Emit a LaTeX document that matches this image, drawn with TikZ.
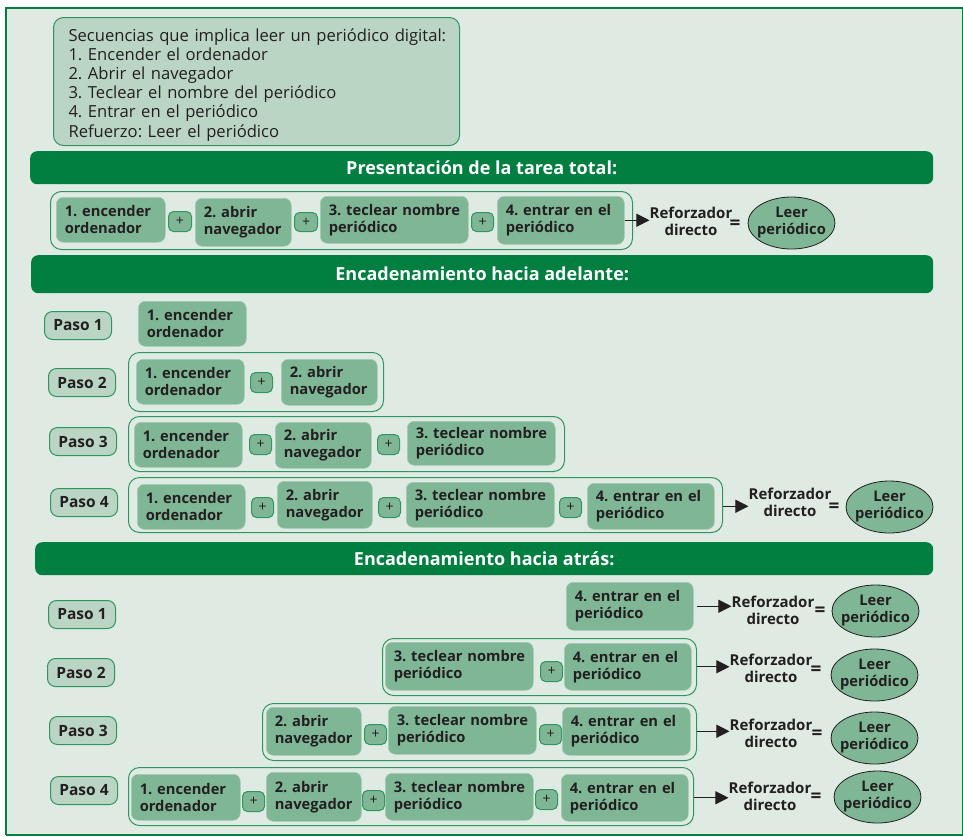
\documentclass[tikz,border=0pt]{standalone}
\usepackage{fontspec}
\setmainfont{Open Sans}
\frenchspacing
\usetikzlibrary{arrows.meta,shapes.geometric}
\definecolor{bgc}{HTML}{DFEBE2}
\definecolor{gd}{HTML}{007F40}
\definecolor{gl}{HTML}{2F9561}
\definecolor{gm}{HTML}{7FB796}
\definecolor{gp}{HTML}{BAD5C3}
\definecolor{ink}{HTML}{231F20}
\tikzset{
 x=1pt,y=-1pt,
 base/.style={anchor=north west,inner ysep=0pt,text=ink},
 stepbox/.style={base,fill=gm,draw=gm!70!white,line width=.5pt,rounded corners=7pt,align=left,inner xsep=8.5pt,font=\frenchspacing\fontsize{14.7}{17}\selectfont\bfseries},
 groupbox/.style={base,draw=gl,line width=1pt,rounded corners=11pt,inner sep=0pt},
 plusbox/.style={base,fill=gm,draw=gl,line width=1pt,rounded corners=5pt,align=center,inner xsep=0pt,font=\fontsize{14}{14}\selectfont},
 pasobox/.style={base,fill=gp,draw=gl,line width=1pt,rounded corners=8pt,align=center,inner xsep=0pt,font=\frenchspacing\fontsize{15.5}{15.5}\selectfont\bfseries},
 banner/.style={base,fill=gd,rounded corners=7pt,text=white,align=center,inner xsep=0pt,font=\frenchspacing\fontsize{18}{20}\selectfont\bfseries},
 refbox/.style={text=ink,align=center,inner sep=0pt,font=\fontsize{15}{17}\selectfont\bfseries},
 eqbox/.style={text=ink,inner sep=0pt,font=\fontsize{19}{19}\selectfont\bfseries},
 goalbox/.style={ellipse,fill=gm,draw=ink,line width=.8pt,text=ink,inner sep=0pt,font=\fontsize{14.7}{17}\selectfont\bfseries},
 linkarrow/.style={draw=ink,line width=1pt,-{Triangle[length=13pt,width=13pt]}},
}
\newcommand{\bx}[7]{%
 \pgfmathsetmacro{\ww}{#4-#2}\pgfmathsetmacro{\hh}{#5-#3}%
 \node[#6,minimum width=\ww pt,minimum height=\hh pt] (#1) at (#2,#3) {#7};}
\newcommand{\sbx}[6]{%
 \pgfmathsetmacro{\ww}{#4-#2}\pgfmathsetmacro{\hh}{#5-#3}\pgfmathsetmacro{\tw}{#4-#2-17}%
 \node[stepbox,text width=\tw pt,minimum height=\hh pt] (#1) at (#2,#3) {#6};}
\newcommand{\enc}{1. encender\\ordenador}
\newcommand{\abr}{2. abrir\\navegador}
\newcommand{\tec}{\mbox{3. teclear nombre}\\periódico}
\newcommand{\ent}{4. entrar en el\\periódico}
\newcommand{\plusb}[3]{\bx{#1}{#2}{#3}{#2+22}{#3+20}{plusbox}{+}}
\newcommand{\pasob}[4]{\bx{#1}{#2}{#3}{#2+67}{#3+28}{pasobox}{#4}}
\newcommand{\goal}[7]{%
 \node[refbox] (#1r) at (#2,#3) {Reforzador\\directo};
 \node[eqbox] (#1e) at (#4,#5) {=};
 \node[goalbox,minimum width=87pt,minimum height=52pt] (#1g) at (#6+43.5,#7+26) {\vbox{\hbox to 40pt{\hss Leer\hss}\hbox to 40pt{\hss periódico\hss}}};
}
\begin{document}
\begin{tikzpicture}
\path[use as bounding box] (0,0) rectangle (963,836);
\fill[bgc] (6,8) rectangle (962,835);
\draw[gd,line width=1.4pt] (962.2,8) -- (962.2,835.3);
\draw[gd,line width=2.4pt] (963,8) -- (6.2,8) -- (6.2,835);
\draw[gd,line width=1.5pt] (6,835.2) -- (963,835.2);

\node[base,fill=gp,draw=gl,line width=1pt,rounded corners=10pt,minimum width=406pt,minimum height=128pt,inner xsep=15pt,align=left,text width=376pt,font=\frenchspacing\fontsize{16.6}{19.2}\selectfont] (intro) at (53,17) {\rule{0pt}{19pt}\mbox{Secuencias que implica leer un periódico digital:}\\1. Encender el ordenador\\2. Abrir el navegador\\3. Teclear el nombre del periódico\\4. Entrar en el periódico\\Refuerzo: Leer el periódico};

% Presentacion
\bx{b1}{30}{151}{933}{184}{banner}{Presentación de la tarea total:}
\bx{c0}{50}{191}{632}{249}{groupbox}{}
\sbx{t1}{56}{197}{165}{242}{\enc}
\bx{tp1}{168}{211}{191}{231}{plusbox}{+}
\sbx{t2}{195}{198}{291}{246}{\abr}
\bx{tp2}{294}{212}{317}{231}{plusbox}{+}
\sbx{t3}{320}{196}{468}{243}{\tec}
\bx{tp3}{471}{212}{493}{231}{plusbox}{+}
\sbx{t4}{497}{196}{624}{244}{\ent}
\goal{t}{691}{221}{735}{225}{748}{197}
\draw[linkarrow] (t4.east) -- (t4.east -| tr.west);

% Adelante
\bx{b2}{31}{255}{933}{293}{banner}{Encadenamiento hacia adelante:}
\pasob{f1}{44}{311}{Paso 1}
\sbx{f1a}{138}{301}{246}{346}{\enc}
\pasob{f2}{48}{368}{Paso 2}
\bx{c2}{128}{352}{383}{411}{groupbox}{}
\sbx{f2a}{136}{359}{244}{404}{\enc}
\plusb{f2p}{250}{372}
\sbx{f2b}{281}{359}{377}{405}{\abr}
\pasob{f3}{49}{427}{Paso 3}
\bx{c3}{128}{416}{564}{471}{groupbox}{}
\sbx{f3a}{134}{422}{242}{467}{\enc}
\plusb{f3p}{249}{434}
\sbx{f3b}{275}{422}{371}{468}{\abr}
\plusb{f3q}{377}{434}
\sbx{f3c}{407}{421}{555}{465}{\tec}
\pasob{f4}{50}{488}{Paso 4}
\bx{c4}{128}{477}{722}{532}{groupbox}{}
\sbx{f4a}{137}{484}{245}{529}{\enc}
\plusb{f4p}{251}{497}
\sbx{f4b}{277}{481}{372}{528}{\abr}
\plusb{f4q}{378}{497}
\sbx{f4c}{406}{482}{554}{527}{\tec}
\plusb{f4s}{559}{497}
\sbx{f4d}{587}{483}{714}{529}{\ent}
\goal{f}{790}{502}{834}{508}{846}{481}
\draw[linkarrow] (c4.east |- f4d.east) -- (fr.west |- f4d.east);

% Atras
\bx{b3}{35}{542}{933}{575}{banner}{Encadenamiento hacia atrás:}
\pasob{g1}{48}{600}{Paso 1}
\sbx{g1a}{566}{582}{693}{630}{\ent}
\goal{h}{773}{610}{820}{612}{832}{585}
\draw[linkarrow] ([xshift=3pt]g1a.east) -- (hr.west |- g1a.east);
\pasob{g2}{47}{658}{Paso 2}
\bx{c6}{382}{638}{696}{695}{groupbox}{}
\sbx{g2a}{385}{642}{533}{690}{\tec}
\plusb{g2p}{540}{661}
\sbx{g2b}{564}{643}{691}{690}{\ent}
\goal{i}{771}{668}{816}{671}{831}{649}
\draw[linkarrow] (c6.east |- g2b.east) -- (ir.west |- g2b.east);
\pasob{g3}{49}{716}{Paso 3}
\bx{c7}{262}{703}{696}{760}{groupbox}{}
\sbx{g3a}{266}{707}{361}{755}{\abr}
\plusb{g3p}{364}{724}
\sbx{g3b}{388}{706}{536}{754}{\tec}
\plusb{g3q}{539}{724}
\sbx{g3c}{562}{707}{690}{755}{\ent}
\goal{j}{771}{733}{817}{735}{831}{712}
\draw[linkarrow] (c7.east |- g3c.east) -- (jr.west |- g3c.east);
\pasob{g4}{50}{776}{Paso 4}
\bx{c8}{128}{767}{693}{825}{groupbox}{}
\sbx{g4a}{131}{774}{240}{820}{\enc}
\plusb{g4p}{242}{791}
\sbx{g4b}{266}{772}{361}{821}{\abr}
\plusb{g4q}{362}{790}
\sbx{g4c}{385}{773}{533}{820}{\tec}
\plusb{g4s}{535}{789}
\sbx{g4d}{561}{774}{688}{821}{\ent}
\goal{k}{770}{796}{816}{798}{834}{771}
\draw[linkarrow] (c8.east |- g4d.east) -- (kr.west |- g4d.east);
\end{tikzpicture}
\end{document}
